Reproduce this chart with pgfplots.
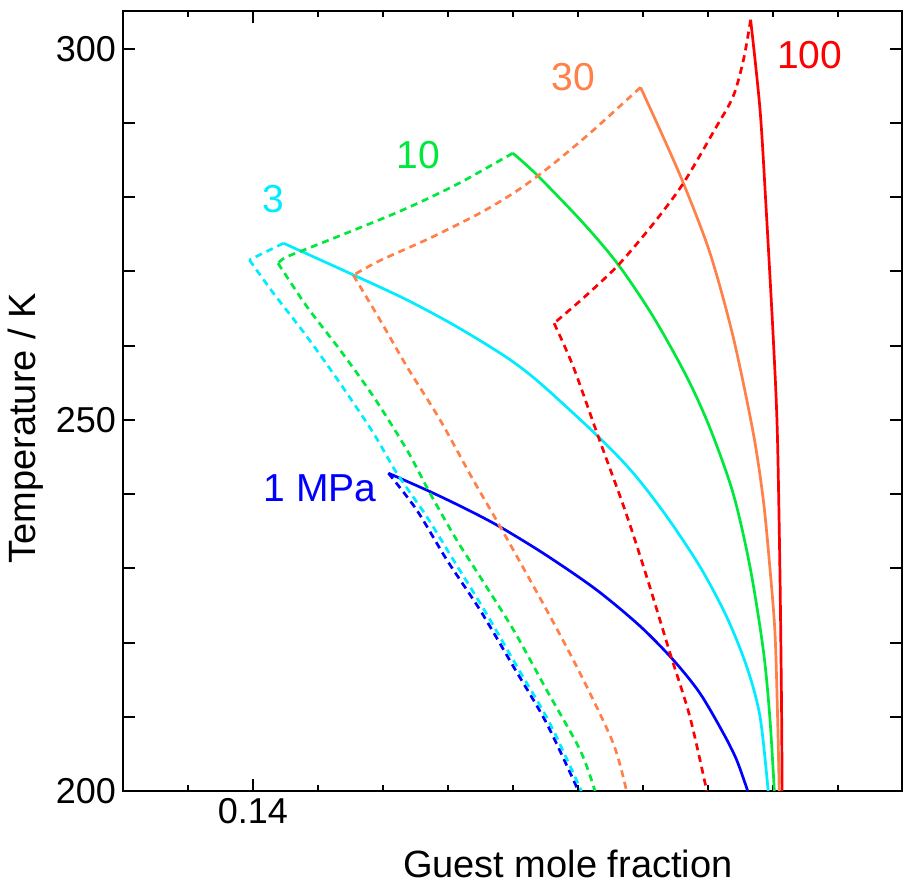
\documentclass[border=0pt]{standalone}
\usepackage{pgfplots}
\pgfplotsset{compat=1.18}
\usepackage{fontspec}
\setmainfont{Liberation Sans}
\definecolor{cBlue}{RGB}{0,0,255}
\definecolor{cCyan}{RGB}{0,236,255}
\definecolor{cGreen}{RGB}{0,232,60}
\definecolor{cOrange}{RGB}{255,128,72}
\definecolor{cRed}{RGB}{255,0,0}
\begin{document}
\begin{tikzpicture}
\path[use as bounding box] (-61.5pt,-47.5pt) rectangle (390.5pt,395.5pt);
\begin{axis}[
  scale only axis, width=389.5pt, height=390pt,
  at={(0,0)}, anchor=south west,
  xmin=0.136, xmax=0.15998, ymin=200, ymax=305.1,
  xtick={0.14}, xticklabels={0.14},
  minor xtick={0.136,0.138,0.142,0.144,0.146,0.148,0.150,0.152,0.154,0.156,0.158},
  ytick={200,210,220,230,240,250,260,270,280,290,300},
  yticklabels={200,,,,,250,,,,,300},
  tick align=inside, tick pos=both,
  major tick length=6pt, minor tick length=3pt,
  axis line style={line width=1.2pt},
  every tick/.style={black, line width=1pt},
  tick label style={font=\fontsize{18}{20}\selectfont},
  every axis x label/.style={at={(rel axis cs:0.571,0)}, yshift=-36.5pt, anchor=center, font=\fontsize{19}{22}\selectfont},
  every axis y label/.style={at={(rel axis cs:0,0.465)}, xshift=-48.5pt, rotate=90, anchor=center, font=\fontsize{19}{22}\selectfont},
  xlabel={Guest mole fraction},
  ylabel={Temperature / K},
  clip=true,
  every axis plot/.append style={line width=1.35pt, line join=round, smooth, tension=0.5},
  dsh/.style={dash pattern=on 3.5pt off 2.5pt},
]
% 1 MPa
\addplot[cBlue] coordinates {(0.14417,242.82) (0.14545,240.34) (0.14658,237.96) (0.14761,235.58) (0.14904,231.74) (0.15058,227.09) (0.15191,222.24) (0.15294,217.65) (0.15376,213.17) (0.15448,207.78) (0.15489,204.18) (0.15523,200)};
\addplot[cBlue, dsh] coordinates {(0.14417,242.82) (0.14504,237.87) (0.14597,231.13) (0.14699,224.39) (0.14802,216.75) (0.14904,209.12) (0.15002,200)};
% 3 MPa
\addplot[cCyan] coordinates {(0.14094,273.81) (0.14309,269.54) (0.14474,266.17) (0.14627,262.57) (0.14781,258.42) (0.14884,254.95) (0.15063,247.75) (0.15171,242.82) (0.15274,236.97) (0.15376,230.23) (0.15458,223.49) (0.15520,216.75) (0.15561,210.01) (0.15586,200)};
\addplot[cCyan, dsh, sharp plot] coordinates {(0.14094,273.81) (0.13989,271.56)};
\addplot[cCyan, dsh] coordinates {(0.13989,271.56) (0.14063,267.08) (0.14166,261.23) (0.14268,254.95) (0.14371,248.21) (0.14443,242.82) (0.14535,236.97) (0.14617,231.13) (0.14712,224.39) (0.14813,216.75) (0.14914,209.12) (0.15011,200)};
% 10 MPa
\addplot[cGreen] coordinates {(0.14800,285.94) (0.14874,283.02) (0.15017,276.51) (0.15125,270.89) (0.15232,263.92) (0.15335,255.84) (0.15407,248.88) (0.15478,240.12) (0.15530,230.23) (0.15571,219.00) (0.15591,210.01) (0.15605,200)};
\addplot[cGreen, dsh] coordinates {(0.14800,285.94) (0.14648,282.21) (0.14545,279.96) (0.14443,277.94) (0.14340,276.09) (0.14238,274.30) (0.14155,272.86) (0.14099,271.87) (0.14077,271.12)};
\addplot[cGreen, dsh] coordinates {(0.14077,271.12) (0.14166,265.27) (0.14268,259.43) (0.14371,253.14) (0.14474,245.96) (0.14545,240.12) (0.14627,233.83) (0.14699,228.88) (0.14802,221.70) (0.14904,213.61) (0.15007,205.53) (0.15053,200)};
% 30 MPa
\addplot[cOrange] coordinates {(0.15193,294.81) (0.15253,289.08) (0.15325,281.90) (0.15407,272.47) (0.15478,261.23) (0.15540,248.25) (0.15571,239.22) (0.15591,230.23) (0.15607,221.29) (0.15615,210.01) (0.15620,200)};
\addplot[cOrange, dsh] coordinates {(0.15193,294.81) (0.15049,289.08) (0.14945,285.23) (0.14874,282.79) (0.14802,280.56) (0.14699,277.87) (0.14545,274.50) (0.14391,271.47) (0.14309,269.50)};
\addplot[cOrange, dsh] coordinates {(0.14309,269.50) (0.14391,263.48) (0.14474,257.18) (0.14576,250.00) (0.14678,241.91) (0.14761,235.62) (0.14904,224.39) (0.15007,215.86) (0.15109,206.43) (0.15150,200)};
% 100 MPa
\addplot[cRed] coordinates {(0.15532,303.91) (0.15561,291.78) (0.15580,278.30) (0.15602,260.78) (0.15614,248.65) (0.15622,230.23) (0.15627,212.26) (0.15629,200)};
\addplot[cRed, dsh] coordinates {(0.15532,303.91) (0.15510,298.52) (0.15478,293.57) (0.15421,289.08) (0.15325,281.90) (0.15232,276.41) (0.15125,270.89) (0.15022,266.62) (0.14927,263.03)};
\addplot[cRed, dsh] coordinates {(0.14927,263.03) (0.14986,257.18) (0.15063,247.75) (0.15145,237.87) (0.15212,228.88) (0.15284,218.56) (0.15345,210.01) (0.15397,200)};
% labels
\node[text=cBlue, font=\fontsize{19.5}{22}\selectfont, anchor=center] at (axis cs:0.14207,240.84) {1 MPa};
\node[text=cCyan, font=\fontsize{19.5}{22}\selectfont, anchor=center] at (axis cs:0.14063,279.78) {3};
\node[text=cGreen, font=\fontsize{19.5}{22}\selectfont, anchor=center] at (axis cs:0.14509,285.71) {10};
\node[text=cOrange, font=\fontsize{19.5}{22}\selectfont, anchor=center] at (axis cs:0.14987,296.16) {30};
\node[text=cRed, font=\fontsize{19.5}{22}\selectfont, anchor=center] at (axis cs:0.15714,299.19) {100};
\end{axis}
\end{tikzpicture}
\end{document}
